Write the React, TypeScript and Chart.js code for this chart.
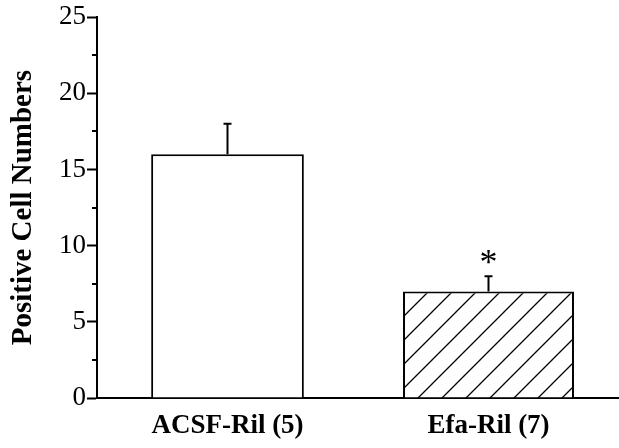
import React, { useEffect, useRef } from "react";
import { Chart, registerables } from "chart.js";

Chart.register(...registerables);

const categories = ["ACSF-Ril (5)", "Efa-Ril (7)"];
const meanValues = [16, 7];
const errorValues = [2, 1];
const significance = ["", "*"];
const yTicksMajor = [0, 5, 10, 15, 20, 25];
const yTicksMinor = [2.5, 7.5, 12.5, 17.5, 22.5];

function makeHatch(): CanvasPattern | string {
  const c = document.createElement("canvas");
  const s = 24;
  c.width = s;
  c.height = s;
  const g = c.getContext("2d");
  if (!g) return "#fff";
  g.fillStyle = "#fff";
  g.fillRect(0, 0, s, s);
  g.strokeStyle = "#000";
  g.lineWidth = 1.3;
  g.beginPath();
  g.moveTo(-2, s + 2);
  g.lineTo(s + 2, -2);
  g.moveTo(-2, 2);
  g.lineTo(2, -2);
  g.moveTo(s - 2, s + 2);
  g.lineTo(s + 2, s - 2);
  g.stroke();
  const p = g.createPattern(c, "repeat");
  return p || "#fff";
}

const errorPlugin = {
  id: "errorBars",
  afterDatasetsDraw(chart: any) {
    const ctx = chart.ctx;
    const y = chart.scales.y;
    const minorLen = 5;
    ctx.save();
    ctx.strokeStyle = "#000";
    ctx.lineWidth = 2;
    yTicksMinor.forEach((v) => {
      const py = Math.round(y.getPixelForValue(v));
      ctx.beginPath();
      ctx.moveTo(chart.chartArea.left - minorLen, py);
      ctx.lineTo(chart.chartArea.left, py);
      ctx.stroke();
    });
    chart.data.datasets.forEach((ds: any, di: number) => {
      const meta = chart.getDatasetMeta(di);
      meta.data.forEach((el: any, i: number) => {
        const val = ds.data[i];
        if (val === null || val === undefined) return;
        const err = errorValues[i];
        const x = el.x;
        const yTop = y.getPixelForValue(val + err);
        const yBase = y.getPixelForValue(val);
        ctx.strokeStyle = "#000";
        ctx.lineWidth = 2;
        ctx.beginPath();
        ctx.moveTo(x, yBase);
        ctx.lineTo(x, yTop);
        ctx.moveTo(x - 4, yTop);
        ctx.lineTo(x + 4, yTop);
        ctx.stroke();
        const mark = significance[i];
        if (mark) {
          ctx.fillStyle = "#000";
          ctx.font = "36px 'Liberation Serif', serif";
          ctx.textAlign = "center";
          ctx.textBaseline = "alphabetic";
          ctx.fillText(mark, x, yTop - 2);
        }
      });
    });
    ctx.restore();
  },
};

export default function App() {
  const ref = useRef<HTMLCanvasElement | null>(null);
  useEffect(() => {
    document.body.style.margin = "0";
    const canvas = ref.current;
    if (!canvas) return;
    const hatch = makeHatch();
    const chart = new Chart(canvas, {
      type: "bar",
      data: {
        labels: categories,
        datasets: [
          {
            data: [meanValues[0], null],
            backgroundColor: "#ffffff",
            borderColor: "#000",
            borderWidth: 2,
            borderSkipped: "start",
            barPercentage: 0.585,
            categoryPercentage: 1,
            grouped: false,
          } as any,
          {
            data: [null, meanValues[1]],
            backgroundColor: hatch as any,
            borderColor: "#000",
            borderWidth: 2,
            borderSkipped: "start",
            barPercentage: 0.655,
            categoryPercentage: 1,
            grouped: false,
          } as any,
        ],
      },
      options: {
        responsive: false,
        animation: false,
        devicePixelRatio: 1,
        layout: { padding: { top: 16, right: 0, bottom: 0, left: 0 } },
        plugins: { legend: { display: false }, tooltip: { enabled: false } },
        scales: {
          x: {
            grid: { display: false, drawTicks: false },
            border: { display: true, color: "#000", width: 2 },
            ticks: {
              color: "#000",
              padding: 12,
              font: { family: "'Liberation Serif', serif", size: 27, weight: "bold" },
            },
            afterFit: (s: any) => {
              s.height = 50;
            },
          },
          y: {
            min: 0,
            max: 25,
            afterBuildTicks: (s: any) => {
              s.ticks = yTicksMajor.map((v) => ({ value: v }));
            },
            grid: {
              display: true,
              drawOnChartArea: false,
              drawTicks: true,
              tickLength: 10,
              tickWidth: 2,
              tickColor: "#000",
            },
            border: { display: true, color: "#000", width: 2 },
            ticks: {
              color: "#000",
              padding: 1,
              font: { family: "'Liberation Serif', serif", size: 27 },
            },
            title: {
              display: true,
              text: "Positive Cell Numbers",
              color: "#000",
              padding: { top: 6, bottom: 0 },
              font: { family: "'Liberation Serif', serif", size: 29, weight: "bold" },
            },
            afterFit: (s: any) => {
              s.width = 97;
            },
          },
        },
      },
      plugins: [errorPlugin],
    });
    return () => chart.destroy();
  }, []);
  return <canvas ref={ref} width={619} height={448} style={{ display: "block" }} />;
}
